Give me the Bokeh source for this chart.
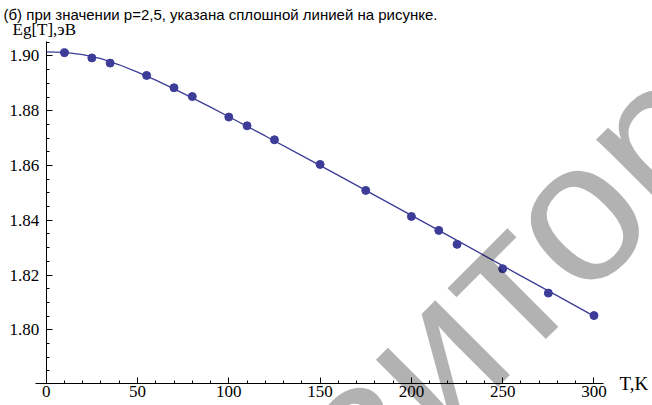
from bokeh.plotting import figure
from bokeh.models import Range1d, SingleIntervalTicker, PrintfTickFormatter, Label
from bokeh.embed import file_html
from bokeh.resources import INLINE

# measured points: temperature (K) and band gap Eg (eV)
T_pts = [10, 25, 35, 55, 70, 80, 100, 110, 125, 150, 175, 200, 215, 225, 250, 275, 300]
E_pts = [1.9012, 1.8993, 1.8974, 1.8929, 1.8884, 1.8852, 1.8777, 1.8745, 1.8694,
         1.8604, 1.8509, 1.8414, 1.8363, 1.8312, 1.8223, 1.8134, 1.8052]

# fitted curve (solid line)
T_fit = [0, 10, 20, 30, 40, 50, 60, 70, 80, 90, 100, 120, 140, 160, 180, 200, 220, 240, 260, 280, 300]
E_fit = [1.9015, 1.9013, 1.9005, 1.8990, 1.8968, 1.8941, 1.8912, 1.8880, 1.8847, 1.8813, 1.8778,
         1.8708, 1.8636, 1.8564, 1.8491, 1.8418, 1.8345, 1.8271, 1.8197, 1.8124, 1.8050]

x_label = "T,K"
y_label = "Eg[T],эВ"
caption = "(б) при значении p=2,5, указана сплошной линией на рисунке."
watermark = "Репозиторий БНТУ"

BLUE = "#3d3d99"
SERIF = "Liberation Serif"
SANS = "Liberation Sans"

# axes cross at T=0 and Eg=1.7803; axis lines end at these bounds
x_axis_bounds = (-6, 305.3)
y_axis_bounds = (1.7803, 1.9053)

p = figure(width=652, height=405, output_backend="svg", toolbar_location=None,
           x_range=Range1d(-25.03, 332.04), y_range=Range1d(1.77235, 1.92027),
           min_border_left=0, min_border_right=0, min_border_top=0, min_border_bottom=0)
p.outline_line_color = None
p.grid.visible = False
p.background_fill_color = "white"
p.border_fill_color = "white"

p.line(T_fit, E_fit, line_color=BLUE, line_width=1.3)
p.scatter(T_pts, E_pts, size=8, fill_color=BLUE, line_color=BLUE)

xa = p.xaxis[0]
xa.ticker = SingleIntervalTicker(interval=50, num_minor_ticks=5)
xa.fixed_location = y_axis_bounds[0]
xa.bounds = x_axis_bounds
ya = p.yaxis[0]
ya.ticker = SingleIntervalTicker(interval=0.02, num_minor_ticks=4)
ya.formatter = PrintfTickFormatter(format="%.2f")
ya.fixed_location = 0
ya.bounds = y_axis_bounds
for ax in (xa, ya):
    ax.axis_line_color = "black"
    ax.axis_line_width = 1
    ax.major_tick_in = 6
    ax.major_tick_out = 0
    ax.minor_tick_in = 3
    ax.minor_tick_out = 0
    ax.major_tick_line_color = "black"
    ax.minor_tick_line_color = "black"
    ax.major_label_text_font = SERIF
    ax.major_label_text_font_size = "17px"
    ax.major_label_text_color = "black"
xa.major_label_standoff = 2
ya.major_label_standoff = 7

p.add_layout(Label(x=-18.46, y=1.9095, text=y_label, text_font=SERIF,
                   text_font_size="17px", text_color="black", text_baseline="alphabetic"))
p.add_layout(Label(x=313.97, y=1.7803, text=x_label, text_font=SERIF,
                   text_font_size="19px", text_color="black", text_baseline="middle"))
p.add_layout(Label(x=-23.38, y=1.9153, text=caption, text_font=SANS,
                   text_font_size="15px", text_color="black", text_baseline="alphabetic"))
p.add_layout(Label(x=-21.8, y=1.6354, text=watermark, text_font=SANS, text_font_size="200px",
                   text_color="black", text_alpha=0.3, angle=45, angle_units="deg",
                   text_baseline="alphabetic"))

open("out.html", "w").write(file_html(p, INLINE))
